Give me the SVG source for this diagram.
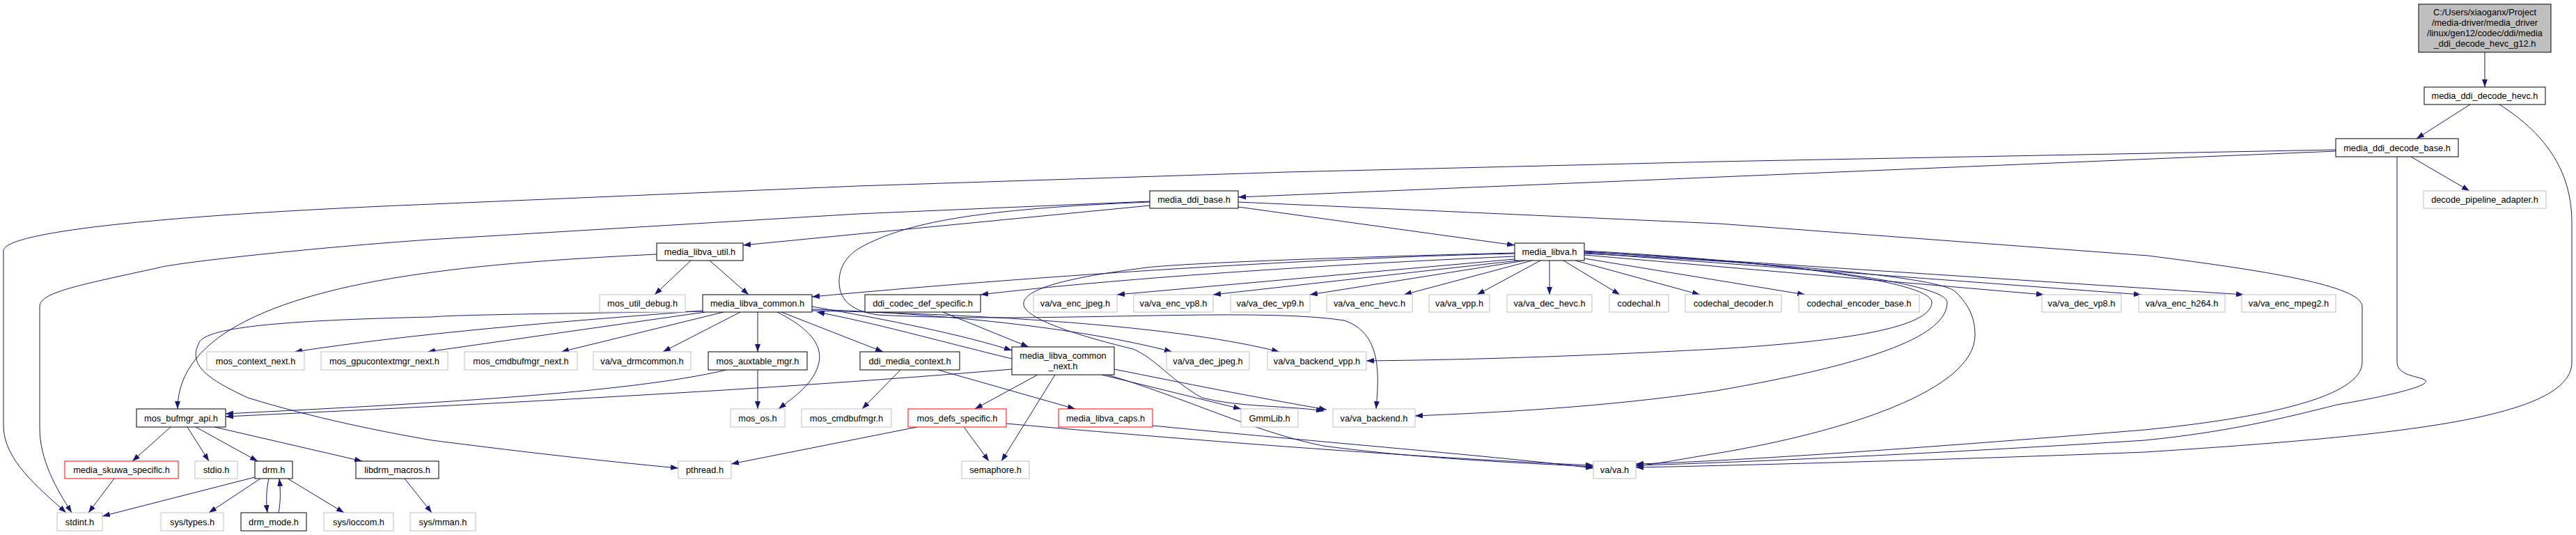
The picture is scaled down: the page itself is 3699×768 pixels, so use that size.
<svg xmlns="http://www.w3.org/2000/svg" width="3699" height="768" viewBox="0 0 3699 768">
<style>
rect{fill:#fff;stroke-width:1}
.g rect{stroke:#bfbfbf}
.b rect{stroke:#000}
.r rect{stroke:#f00}
.root rect{fill:#bfbfbf;stroke:#000}
text{font-family:"Liberation Sans",Arial,sans-serif;font-size:12.8px;text-anchor:middle;fill:#000}
#edges path{fill:none;stroke:#191970;stroke-width:1;marker-end:url(#a)}
</style>
<defs>
<marker id="a" viewBox="0 0 11 8" refX="11" refY="4" markerWidth="11" markerHeight="8" markerUnits="userSpaceOnUse" orient="auto"><path d="M0,0L11,4L0,8z" fill="#191970"/></marker>
</defs>
<rect x="0" y="0" width="3699" height="768" style="fill:#fff;stroke:none"/>
<g id="edges">
<path d="M3568,75L3568,125"/>
<path d="M3547,150L3470,199"/>
<path d="M3589,150C3660,195 3693,250 3693,320L3693,520C3693,600 3450,625 3080,649C2800,660 2500,668 2349,671"/>
<path d="M3462,225L3546,274"/>
<path d="M3442,225L3442,520C3442,540 3475,540 3483,546C3490,555 3420,570 3356,581C3280,600 3200,620 3080,632C2800,650 2500,664 2349,668"/>
<path d="M1778,290L2468,321L3084,367C3250,388 3392,410 3392,440L3392,520C3392,570 3250,600 3080,617C2800,640 2500,662 2349,666"/>
<path d="M1778,297L2175,352"/>
<path d="M3354,217L1778,283"/>
<path d="M3354,215L2464,232L1848,247L1232,267L620,293C200,310 5,335 5,360L5,611C5,660 55,700 95,736"/>
<path d="M1651,289L1232,307L616,344C420,358 250,378 229,384C110,410 57,420 57,440L57,614C57,660 80,700 103,736"/>
<path d="M1651,295L1067,352"/>
<path d="M1651,290C1400,300 1300,320 1236,355C1210,370 1205,390 1205,404C1205,425 1215,445 1260,452C1500,465 1800,440 1930,460C1985,478 1980,540 1976,587"/>
<path d="M943,365C800,372 700,380 620,391C400,420 255,480 255,587"/>
<path d="M992,374L940,423"/>
<path d="M1019,374L1075,423"/>
<path d="M2175,364C1900,370 1500,395 1166,426"/>
<path d="M2175,368C1900,380 1600,400 1408,423"/>
<path d="M2175,372L1604,423"/>
<path d="M2180,374L1742,423"/>
<path d="M2190,374L1881,423"/>
<path d="M2200,374L2016,423"/>
<path d="M2212,374L2121,423"/>
<path d="M2225,374L2225,423"/>
<path d="M2245,374L2326,423"/>
<path d="M2262,374L2441,423"/>
<path d="M2275,371L2592,423"/>
<path d="M2275,366L2935,423"/>
<path d="M2275,363L3075,423"/>
<path d="M2275,361L3222,423"/>
<path d="M2275,360C2500,372 2774,400 2774,434C2774,470 2650,490 2464,501C2200,515 2050,517 1962,518"/>
<path d="M2275,362C2550,375 2796,405 2796,434C2796,480 2700,520 2464,561C2300,585 2150,592 2032,597"/>
<path d="M2275,364C2600,380 2790,400 2808,419C2830,440 2836,460 2836,481C2836,560 2650,620 2464,651C2420,658 2380,666 2349,669"/>
<path d="M2175,363C1900,370 1700,378 1647,384C1560,395 1475,410 1470,434C1465,455 1540,480 1627,501C1660,515 1680,545 1726,571C1780,585 1850,582 1901,590"/>
<path d="M1009,447C800,450 650,452 620,455C400,460 290,470 285,494C270,525 300,545 356,571C450,600 550,620 620,632C800,655 900,665 974,672"/>
<path d="M1009,446C800,462 600,478 423,505"/>
<path d="M1012,448L614,505"/>
<path d="M1039,448L806,505"/>
<path d="M1063,448L952,505"/>
<path d="M1088,448L1088,505"/>
<path d="M1116,448C1170,475 1180,500 1176,520C1170,550 1140,570 1118,587"/>
<path d="M1122,448L1268,505"/>
<path d="M1166,440C1280,460 1380,480 1453,503"/>
<path d="M1453,515C1350,490 1250,462 1173,448"/>
<path d="M1166,444C1350,450 1550,470 1683,505"/>
<path d="M1166,446C1450,452 1700,470 1837,505"/>
<path d="M1043,531C900,565 600,580 324,594"/>
<path d="M1088,531L1088,587"/>
<path d="M1453,530C1100,560 700,580 324,598"/>
<path d="M1354,448L1477,498"/>
<path d="M1293,531L1238,587"/>
<path d="M1347,531L1544,587"/>
<path d="M1490,538L1400,587"/>
<path d="M1515,538L1438,662"/>
<path d="M1582,538L1782,587"/>
<path d="M1600,530C1700,550 1800,570 1905,588"/>
<path d="M1590,538C1700,570 1800,620 1900,640C2050,660 2200,665 2288,670"/>
<path d="M1317,613L1050,666"/>
<path d="M1384,613L1420,662"/>
<path d="M1445,608C1800,640 2100,660 2288,668"/>
<path d="M1655,611C1900,635 2150,655 2288,672"/>
<path d="M245,613L190,662"/>
<path d="M269,613L300,662"/>
<path d="M281,613L370,662"/>
<path d="M308,613L520,662"/>
<path d="M164,687L127,736"/>
<path d="M366,685L147,741"/>
<path d="M374,687L300,736"/>
<path d="M386,687C382,705 382,720 384,736"/>
<path d="M400,736C403,720 403,705 401,687"/>
<path d="M413,687L494,736"/>
<path d="M581,687L620,736"/>
</g>
<g id="root" class="root"><rect x="3473" y="6" width="190" height="69"/><text x="3568" y="22">C:/Users/xiaoganx/Project</text><text x="3568" y="37">/media-driver/media_driver</text><text x="3568" y="51.5">/linux/gen12/codec/ddi/media</text><text x="3568" y="66.5">_ddi_decode_hevc_g12.h</text></g>
<g id="n_hevc" class="b"><rect x="3481" y="125" width="174" height="25"/><text x="3568" y="142">media_ddi_decode_hevc.h</text></g>
<g id="n_dbase" class="b"><rect x="3354" y="199" width="176" height="26"/><text x="3442" y="216.5">media_ddi_decode_base.h</text></g>
<g id="n_dpa" class="g"><rect x="3480" y="274" width="176" height="25"/><text x="3568" y="291">decode_pipeline_adapter.h</text></g>
<g id="n_mdb" class="b"><rect x="1651" y="274" width="127" height="25"/><text x="1714.5" y="291">media_ddi_base.h</text></g>
<g id="n_util" class="b"><rect x="943" y="349" width="124" height="25"/><text x="1005" y="366">media_libva_util.h</text></g>
<g id="n_libva" class="b"><rect x="2175" y="349" width="100" height="25"/><text x="2225" y="366">media_libva.h</text></g>
<g id="n_dbg" class="g"><rect x="861" y="423" width="123" height="25"/><text x="922.5" y="440">mos_util_debug.h</text></g>
<g id="n_common" class="b"><rect x="1009" y="423" width="157" height="25"/><text x="1087.5" y="440">media_libva_common.h</text></g>
<g id="n_dcds" class="b"><rect x="1242" y="423" width="166" height="25"/><text x="1325" y="440">ddi_codec_def_specific.h</text></g>
<g id="n_encjpeg" class="g"><rect x="1484" y="423" width="120" height="25"/><text x="1544" y="440">va/va_enc_jpeg.h</text></g>
<g id="n_encvp8" class="g"><rect x="1628" y="423" width="114" height="25"/><text x="1685" y="440">va/va_enc_vp8.h</text></g>
<g id="n_decvp9" class="g"><rect x="1767" y="423" width="114" height="25"/><text x="1824" y="440">va/va_dec_vp9.h</text></g>
<g id="n_enchevc" class="g"><rect x="1905" y="423" width="123" height="25"/><text x="1966.5" y="440">va/va_enc_hevc.h</text></g>
<g id="n_vpp" class="g"><rect x="2052" y="423" width="87" height="25"/><text x="2095.5" y="440">va/va_vpp.h</text></g>
<g id="n_dechevc" class="g"><rect x="2164" y="423" width="122" height="25"/><text x="2225" y="440">va/va_dec_hevc.h</text></g>
<g id="n_codechal" class="g"><rect x="2311" y="423" width="85" height="25"/><text x="2353.5" y="440">codechal.h</text></g>
<g id="n_cdecoder" class="g"><rect x="2420" y="423" width="138" height="25"/><text x="2489" y="440">codechal_decoder.h</text></g>
<g id="n_cencoder" class="g"><rect x="2583" y="423" width="173" height="25"/><text x="2669.5" y="440">codechal_encoder_base.h</text></g>
<g id="n_decvp8" class="g"><rect x="2932" y="423" width="114" height="25"/><text x="2989" y="440">va/va_dec_vp8.h</text></g>
<g id="n_ench264" class="g"><rect x="3071" y="423" width="124" height="25"/><text x="3133" y="440">va/va_enc_h264.h</text></g>
<g id="n_encmpeg2" class="g"><rect x="3219" y="423" width="135" height="25"/><text x="3286.5" y="440">va/va_enc_mpeg2.h</text></g>
<g id="n_ctxnext" class="g"><rect x="297" y="505" width="140" height="26"/><text x="367" y="522.5">mos_context_next.h</text></g>
<g id="n_gpuctx" class="g"><rect x="461" y="505" width="182" height="26"/><text x="552" y="522.5">mos_gpucontextmgr_next.h</text></g>
<g id="n_cmdbufnext" class="g"><rect x="667" y="505" width="162" height="26"/><text x="748" y="522.5">mos_cmdbufmgr_next.h</text></g>
<g id="n_drmcommon" class="g"><rect x="852" y="505" width="140" height="26"/><text x="922" y="522.5">va/va_drmcommon.h</text></g>
<g id="n_auxtable" class="b"><rect x="1017" y="505" width="142" height="26"/><text x="1088" y="522.5">mos_auxtable_mgr.h</text></g>
<g id="n_ddictx" class="b"><rect x="1235" y="505" width="143" height="26"/><text x="1306.5" y="522.5">ddi_media_context.h</text></g>
<g id="n_cnext" class="b"><rect x="1453" y="498" width="147" height="40"/><text x="1526.5" y="514.5">media_libva_common</text><text x="1526.5" y="529.5">_next.h</text></g>
<g id="n_decjpeg" class="g"><rect x="1675" y="505" width="119" height="26"/><text x="1734.5" y="522.5">va/va_dec_jpeg.h</text></g>
<g id="n_bvpp" class="g"><rect x="1820" y="505" width="142" height="26"/><text x="1891" y="522.5">va/va_backend_vpp.h</text></g>
<g id="n_bufmgr" class="b"><rect x="196" y="587" width="128" height="26"/><text x="260" y="604.5">mos_bufmgr_api.h</text></g>
<g id="n_mosos" class="g"><rect x="1049" y="587" width="78" height="26"/><text x="1088" y="604.5">mos_os.h</text></g>
<g id="n_cmdbufmgr" class="g"><rect x="1151" y="587" width="129" height="26"/><text x="1215.5" y="604.5">mos_cmdbufmgr.h</text></g>
<g id="n_defs" class="r"><rect x="1304" y="587" width="141" height="26"/><text x="1374.5" y="604.5">mos_defs_specific.h</text></g>
<g id="n_caps" class="r"><rect x="1520" y="587" width="135" height="26"/><text x="1587.5" y="604.5">media_libva_caps.h</text></g>
<g id="n_gmm" class="g"><rect x="1782" y="587" width="82" height="26"/><text x="1823" y="604.5">GmmLib.h</text></g>
<g id="n_backend" class="g"><rect x="1914" y="587" width="118" height="26"/><text x="1973" y="604.5">va/va_backend.h</text></g>
<g id="n_skuwa" class="r"><rect x="93" y="662" width="163" height="25"/><text x="174.5" y="679">media_skuwa_specific.h</text></g>
<g id="n_stdio" class="g"><rect x="280" y="662" width="61" height="25"/><text x="310.5" y="679">stdio.h</text></g>
<g id="n_drm" class="b"><rect x="366" y="662" width="54" height="25"/><text x="393" y="679">drm.h</text></g>
<g id="n_libdrm" class="b"><rect x="511" y="662" width="119" height="25"/><text x="570.5" y="679">libdrm_macros.h</text></g>
<g id="n_pthread" class="g"><rect x="974" y="662" width="76" height="25"/><text x="1012" y="679">pthread.h</text></g>
<g id="n_semaphore" class="g"><rect x="1381" y="662" width="97" height="25"/><text x="1429.5" y="679">semaphore.h</text></g>
<g id="n_vah" class="g"><rect x="2288" y="662" width="61" height="25"/><text x="2318.5" y="679">va/va.h</text></g>
<g id="n_stdint" class="g"><rect x="82" y="736" width="65" height="26"/><text x="114.5" y="753.5">stdint.h</text></g>
<g id="n_systypes" class="g"><rect x="231" y="736" width="90" height="26"/><text x="276" y="753.5">sys/types.h</text></g>
<g id="n_drmmode" class="b"><rect x="346" y="736" width="94" height="26"/><text x="393" y="753.5">drm_mode.h</text></g>
<g id="n_ioccom" class="g"><rect x="465" y="736" width="100" height="26"/><text x="515" y="753.5">sys/ioccom.h</text></g>
<g id="n_mman" class="g"><rect x="589" y="736" width="94" height="26"/><text x="636" y="753.5">sys/mman.h</text></g>
</svg>
